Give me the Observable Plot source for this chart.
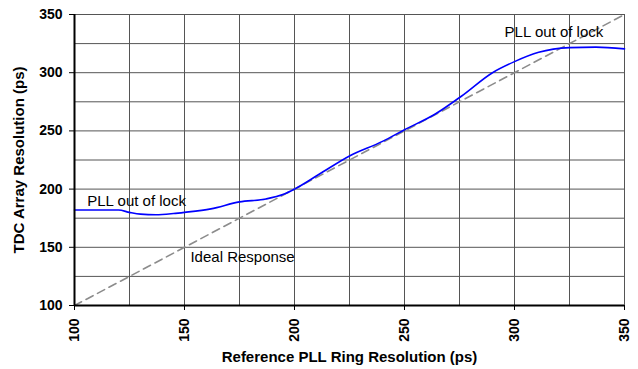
<!DOCTYPE html>
<html>
<head>
<meta charset="utf-8">
<script src="https://cdn.jsdelivr.net/npm/d3@7"></script>
<script src="https://cdn.jsdelivr.net/npm/@observablehq/plot@0.6"></script>
<style>
html,body{margin:0;padding:0;background:#fff;}
svg{font-family:"Liberation Sans",Arial,sans-serif;}
</style>
</head>
<body>
<div id="chart"></div>
<script>
const refRes = [100,110,120,125,130,137,145,150,162,175,187,195,200,211,225,240,250,264,276,290,300,311,325,337,350];
const tdcRes = [182,182,182,180,178.5,178,179,180,183,189,191.5,195.5,200,212.5,228.5,241,251,264.5,280,300,309.5,317.5,321.5,322,320.5];
const idealX = [100,350];
const tickVals = [100,150,200,250,300,350];
const gridVals = [100,125,150,175,200,225,250,275,300,325,350];
const labels = [
  {x:105.8, y:190, text:"PLL out of lock"},
  {x:295.5, y:334.6, text:"PLL out of lock"},
  {x:152.7, y:141.9, text:"Ideal Response"}
];

const measured = refRes.map((x,i)=>({x, y:tdcRes[i]}));
const ideal = idealX.map(x=>({x, y:x}));

const chart = Plot.plot({
  width: 638,
  height: 369,
  marginLeft: 74,
  marginRight: 14,
  marginTop: 14,
  marginBottom: 64,
  style: {fontFamily:"Liberation Sans, Arial, sans-serif", background:"#fff"},
  x: {domain:[100,350]},
  y: {domain:[100,350]},
  marks: [
    Plot.gridX(gridVals, {stroke:"#555", strokeOpacity:1, strokeWidth:1}),
    Plot.gridY(gridVals, {stroke:"#555", strokeOpacity:1, strokeWidth:1}),
    Plot.line(ideal, {x:"x", y:"y", stroke:"#8c8c8c", strokeWidth:1.6, strokeDasharray:"8,5"}),
    Plot.line(measured, {x:"x", y:"y", stroke:"#0000ff", strokeWidth:1.6, curve:"monotone-x"}),
    Plot.text(labels, {x:"x", y:"y", text:"text", textAnchor:"start", fontSize:15, fill:"#000"}),
    Plot.ruleX([100], {stroke:"#000", strokeWidth:2}),
    Plot.ruleY([100], {stroke:"#000", strokeWidth:2}),
    Plot.axisX(tickVals, {tickRotate:-90, tickSize:5, tickPadding:8, fontSize:14, fontWeight:"bold", fill:"#000", label:null}),
    Plot.axisY(tickVals, {tickSize:5, tickPadding:7, fontSize:14, fontWeight:"bold", fill:"#000", label:null}),
    Plot.text(["Reference PLL Ring Resolution (ps)"], {frameAnchor:"bottom", dy:56, fontSize:15, fontWeight:"bold", fill:"#000"}),
    Plot.text(["TDC Array Resolution (ps)"], {frameAnchor:"left", textAnchor:"middle", dx:-55, rotate:-90, fontSize:15, fontWeight:"bold", fill:"#000"})
  ]
});
document.getElementById("chart").appendChild(chart);
</script>
</body>
</html>
